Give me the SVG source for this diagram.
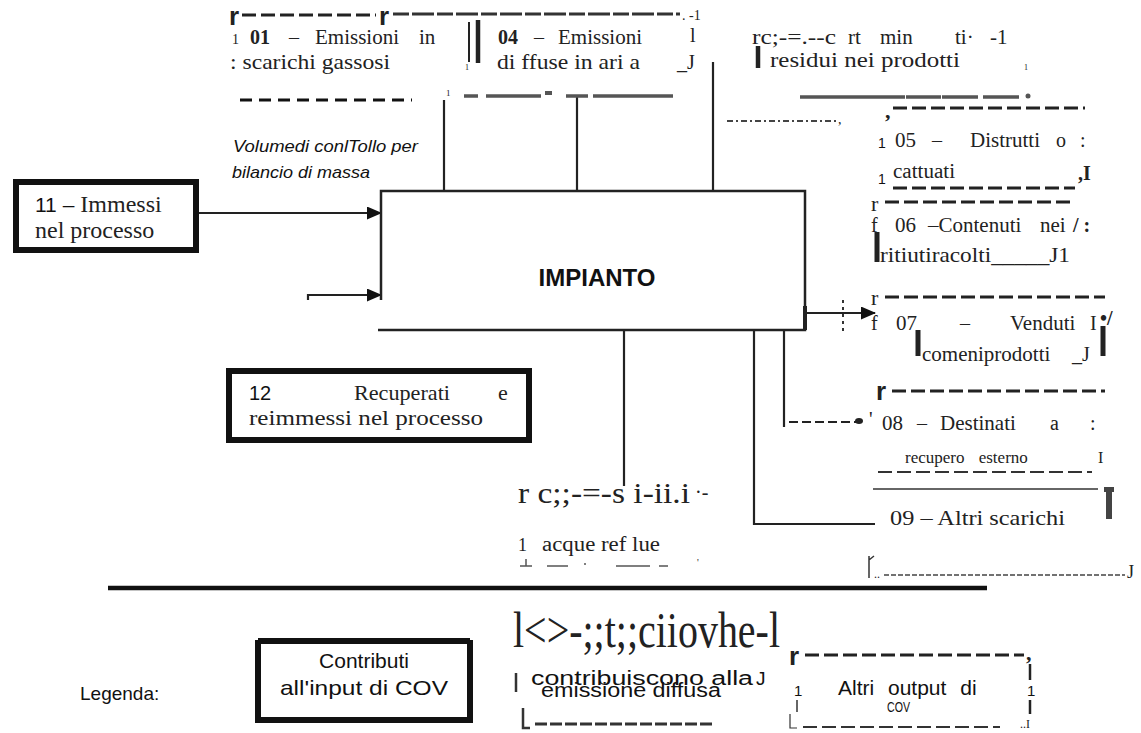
<svg xmlns="http://www.w3.org/2000/svg" width="1141" height="733" viewBox="0 0 1141 733">
<defs>
<style>
.sf{font-family:"Liberation Serif","DejaVu Serif",serif;fill:#222}
.ss{font-family:"Liberation Sans","DejaVu Sans",sans-serif;fill:#111}
.f20{font-size:20px}
.f18{font-size:18px}
.dash{fill:none;stroke:#222;stroke-width:3;stroke-dasharray:14 5}
.ln{fill:none;stroke:#222;stroke-width:2.2}
.thick{fill:none;stroke:#111;stroke-width:6}
.rr{font-family:"Liberation Sans","DejaVu Sans",sans-serif;font-weight:bold;font-size:26px;fill:#222}
</style>
<marker id="ah" markerWidth="15" markerHeight="13" refX="14" refY="6.5" orient="auto" markerUnits="userSpaceOnUse">
<path d="M0,0 L15,6.5 L0,13 Z" fill="#111"/>
</marker>
</defs>
<rect width="1141" height="733" fill="#fff"/>

<g id="connectors">
<line class="ln" x1="199" y1="213" x2="381" y2="213" marker-end="url(#ah)"/>
<path class="ln" d="M308,300 V295 H381" marker-end="url(#ah)"/>
<line class="ln" x1="444" y1="100" x2="444" y2="191"/>
<line class="ln" x1="577" y1="97" x2="577" y2="191"/>
<line class="ln" x1="713" y1="62" x2="713" y2="191"/>
<line class="ln" x1="805" y1="313" x2="875" y2="313" marker-end="url(#ah)"/>
<line x1="843" y1="300" x2="843" y2="332" stroke="#333" stroke-width="2" stroke-dasharray="3 4"/>
<line class="ln" x1="624" y1="330" x2="624" y2="486"/>
<path class="ln" d="M754,330 V524 H875"/>
<line class="ln" x1="784" y1="330" x2="784" y2="427"/>
<line x1="789" y1="422" x2="856" y2="422" stroke="#222" stroke-width="2.2" stroke-dasharray="9 4"/>
<ellipse cx="859" cy="421" rx="4" ry="3" fill="#222"/>
</g>

<g id="impianto">
<path d="M381,300 V191 H805 V330 H378" fill="none" stroke="#222" stroke-width="2.5"/>
<line x1="805" y1="306" x2="805" y2="330" stroke="#222" stroke-width="4"/>
<text class="ss" x="597" y="286" font-size="24" font-weight="bold" text-anchor="middle">IMPIANTO</text>
</g>

<g id="n11">
<rect x="16" y="182" width="180" height="68" class="thick"/>
<text class="sf" x="35" y="212" font-size="24"><tspan class="ss" font-size="21">11 –</tspan> Immessi</text>
<text class="sf" x="35" y="238" font-size="24">nel processo</text>
</g>

<g id="annotation">
<text class="ss" x="233" y="152" font-size="17" font-style="italic" textLength="185" lengthAdjust="spacingAndGlyphs">Volumedi conlTollo per</text>
<text class="ss" x="232" y="178" font-size="17" font-style="italic" textLength="138" lengthAdjust="spacingAndGlyphs">bilancio di massa</text>
</g>

<g id="n12">
<rect x="229" y="371" width="300" height="69" class="thick"/>
<text class="ss" x="249" y="400" font-size="20">12</text>
<text class="sf" x="354" y="400" font-size="22" textLength="96" lengthAdjust="spacingAndGlyphs">Recuperati</text>
<text class="sf" x="498" y="400" font-size="22">e</text>
<text class="sf" x="249" y="425" font-size="22" textLength="234" lengthAdjust="spacingAndGlyphs">reimmessi nel processo</text>
</g>

<g id="n01">
<text class="rr" x="229" y="25">r</text>
<line class="dash" x1="242" y1="15" x2="376" y2="15"/>
<text class="sf" x="232" y="44" font-size="14">1</text>
<text class="sf f20" x="250" y="44" font-weight="bold">01</text>
<text class="sf f20" x="289" y="44">–</text>
<text class="sf" x="315" y="44" font-size="21">Emissioni</text>
<text class="sf" x="419" y="44" font-size="21">in</text>
<text class="sf" x="230" y="69" font-size="21" textLength="160" lengthAdjust="spacingAndGlyphs">: scarichi gassosi</text>
<line x1="240" y1="100" x2="412" y2="100" stroke="#111" stroke-width="3" stroke-dasharray="12 7"/>
<text class="sf" x="446" y="96" font-size="9">1</text>
</g>

<g id="n04">
<text class="rr" x="379" y="25">r</text>
<path d="M393,14 H680" fill="none" stroke="#333" stroke-width="3" stroke-dasharray="16 3 22 3"/>
<text class="sf" x="682" y="20" font-size="14">. -1</text>
<line x1="469" y1="22" x2="469" y2="62" stroke="#222" stroke-width="2"/>
<line x1="478" y1="20" x2="478" y2="63" stroke="#222" stroke-width="4.5"/>
<text class="sf" x="465" y="70" font-size="8">1</text>
<text class="sf f20" x="498" y="44" font-weight="bold">04</text>
<text class="sf f20" x="534" y="44">–</text>
<text class="sf" x="558" y="44" font-size="21">Emissioni</text>
<text class="sf f20" x="690" y="42">l</text>
<text class="sf" x="497" y="69" font-size="21" textLength="143" lengthAdjust="spacingAndGlyphs">di ffuse in ari a</text>
<text class="sf f20" x="677" y="69">_J</text>
<path d="M464,96 H478 M486,96 H541 M566,96 H588 M593,96 H673" stroke="#555" stroke-width="3.5" fill="none"/>
<rect x="545" y="91" width="7" height="4" fill="#555"/>
</g>

<g id="n03">
<text class="sf" x="752" y="44" font-size="22" textLength="84" lengthAdjust="spacingAndGlyphs">rc;-=.--c</text>
<text class="sf" x="848" y="44" font-size="21">rt</text>
<text class="sf" x="880" y="44" font-size="21">min</text>
<text class="sf" x="955" y="44" font-size="21">ti·</text>
<text class="sf" x="990" y="44" font-size="21">-1</text>
<line x1="758" y1="46" x2="758" y2="68" stroke="#222" stroke-width="4.5"/>
<text class="sf" x="770" y="67" font-size="22" textLength="190" lengthAdjust="spacingAndGlyphs">residui nei prodotti</text>
<text class="sf" x="1024" y="70" font-size="8">1</text>
<path d="M800,97 H817 M817,97 H835 M835,97 H905 M906,97 H941 M942,97 H978 M983,97 H1019" stroke="#555" stroke-width="3.5" fill="none"/>
<circle cx="1028" cy="96" r="2.5" fill="#555"/>
<line x1="727" y1="121" x2="838" y2="121" stroke="#444" stroke-width="2" stroke-dasharray="6 3 2 3"/>
<text class="sf" x="838" y="124" font-size="14">,</text>
</g>

<g id="n05">
<text class="sf" x="885" y="118" font-size="22" font-weight="bold">,</text>
<line class="dash" x1="893" y1="108" x2="1085" y2="108"/>
<text class="ss" x="878" y="148" font-size="14">1</text>
<text class="sf" x="895" y="147" font-size="21">05</text>
<text class="sf f20" x="932" y="147">–</text>
<text class="sf" x="970" y="147" font-size="21">Distrutti</text>
<text class="sf f20" x="1056" y="147">o</text>
<text class="sf f20" x="1080" y="147">:</text>
<text class="ss" x="878" y="184" font-size="14">1</text>
<text class="sf f20" x="893" y="178" textLength="62" lengthAdjust="spacingAndGlyphs">cattuati</text>
<text class="sf f20" x="1078" y="180" font-weight="bold">,I</text>
<line class="dash" x1="893" y1="188" x2="1075" y2="188"/>
</g>

<g id="n06">
<text class="sf" x="871" y="211" font-size="22">r</text>
<line class="dash" x1="885" y1="202" x2="1075" y2="202"/>
<text class="sf f20" x="871" y="232">f</text>
<text class="sf" x="895" y="232" font-size="21">06</text>
<text class="sf" x="928" y="232" font-size="21">–Contenuti</text>
<text class="sf" x="1040" y="232" font-size="21">nei</text>
<text class="sf f20" x="1073" y="232" font-weight="bold">/ :</text>
<line x1="877" y1="232" x2="877" y2="262" stroke="#222" stroke-width="5"/>
<text class="sf" x="880" y="262" font-size="21" textLength="190" lengthAdjust="spacingAndGlyphs">ritiutiracolti_____J1</text>
</g>

<g id="n07">
<text class="sf" x="871" y="305" font-size="22">r</text>
<line class="dash" x1="885" y1="297" x2="1105" y2="297"/>
<text class="sf f20" x="871" y="330">f</text>
<text class="sf" x="896" y="330" font-size="21">07</text>
<text class="sf f20" x="960" y="330">–</text>
<text class="sf" x="1010" y="330" font-size="21">Venduti</text>
<text class="sf f20" x="1090" y="330">I</text>
<text class="sf f20" x="1100" y="325" font-weight="bold">•/</text>
<line x1="918" y1="330" x2="918" y2="356" stroke="#222" stroke-width="5"/>
<line x1="1103" y1="326" x2="1103" y2="356" stroke="#222" stroke-width="5"/>
<text class="sf" x="922" y="361" font-size="21">comeniprodotti</text>
<text class="sf f20" x="1072" y="361">_J</text>
</g>

<g id="n08">
<text class="rr" x="876" y="400">r</text>
<line class="dash" x1="892" y1="391" x2="1105" y2="391" stroke-width="3.5"/>
<text class="sf f20" x="869" y="426">'</text>
<text class="sf" x="882" y="430" font-size="21">08</text>
<text class="sf f20" x="917" y="430">–</text>
<text class="sf" x="940" y="430" font-size="21">Destinati</text>
<text class="sf f20" x="1050" y="430">a</text>
<text class="sf f20" x="1090" y="430">:</text>
<text class="sf" x="905" y="463" font-size="17" word-spacing="10">recupero esterno</text>
<text class="sf" x="1098" y="463" font-size="16">I</text>
<line x1="878" y1="472" x2="1092" y2="472" stroke="#333" stroke-width="2" stroke-dasharray="14 5"/>
</g>

<g id="n09">
<line x1="873" y1="489" x2="1098" y2="489" stroke="#666" stroke-width="2"/>
<rect x="1106" y="491" width="6" height="28" fill="#444"/>
<rect x="1104" y="487" width="10" height="5" fill="#444"/>
<text class="sf" x="890" y="525" font-size="22" textLength="175" lengthAdjust="spacingAndGlyphs">09 – Altri scarichi</text>
<path d="M869,556 V578 M869,560 L874,556" stroke="#333" stroke-width="1.5" fill="none"/>
<text class="sf" x="874" y="578" font-size="12">..</text>
<line x1="884" y1="575" x2="1125" y2="575" stroke="#444" stroke-width="1.5" stroke-dasharray="5 2"/>
<text class="sf f18" x="1127" y="578">J</text>
</g>

<g id="n10">
<text class="sf" x="518" y="503" font-size="30" textLength="172" lengthAdjust="spacingAndGlyphs">r c;;-=-s i-ii.i</text>
<text class="sf" x="695" y="499" font-size="20">·-</text>
<text class="sf f18" x="518" y="551">1</text>
<text class="sf" x="542" y="551" font-size="20" textLength="118" lengthAdjust="spacingAndGlyphs">acque ref lue</text>
<path d="M520,566 H532 M526,559 V566 M547,566 H568 M585,563 V565 M616,566 H650 M659,566 H668" stroke="#555" stroke-width="1.5" fill="none"/>
<text class="sf" x="697" y="566" font-size="10">'</text>
</g>

<line id="separator" x1="108" y1="588" x2="987" y2="588" stroke="#111" stroke-width="4.5"/>

<g id="legend">
<text class="ss" x="80" y="700" font-size="19">Legenda:</text>
<g id="leg-input">
<path d="M258,640 V722 M470,640 V722 M255,720 H473 M258,641 H470" class="thick"/>
<text class="ss" x="364" y="668" font-size="21" text-anchor="middle">Contributi</text>
<text class="ss" x="364" y="695" font-size="21" text-anchor="middle" textLength="168" lengthAdjust="spacingAndGlyphs">all'input di COV</text>
</g>
<g id="leg-diffuse">
<text class="sf" x="513" y="647" font-size="50" textLength="267" lengthAdjust="spacingAndGlyphs">l&lt;&gt;-;;t;;ciiovhe-l</text>
<line x1="516" y1="673" x2="516" y2="692" stroke="#333" stroke-width="2.5"/>
<text class="ss" x="531" y="685" font-size="20" textLength="222" lengthAdjust="spacingAndGlyphs">contribuiscono alla</text>
<text class="ss" x="756" y="685" font-size="19">J</text>
<text class="ss" x="541" y="697" font-size="20" textLength="180" lengthAdjust="spacingAndGlyphs">emissione diffusa</text>
<path d="M523,708 V728 H530" stroke="#333" stroke-width="2.5" fill="none"/>
<line x1="535" y1="724" x2="712" y2="724" stroke="#333" stroke-width="3" stroke-dasharray="12 3"/>
</g>
<g id="leg-output">
<text class="rr" x="789" y="665">r</text>
<line x1="805" y1="655" x2="1024" y2="655" stroke="#222" stroke-width="3" stroke-dasharray="14 5"/>
<text class="sf" x="1026" y="660" font-size="22" font-weight="bold">,</text>
<text class="ss" x="794" y="696" font-size="15">1</text>
<text class="ss" x="838" y="695" font-size="21" word-spacing="8">Altri output di</text>
<text class="ss" x="1027" y="696" font-size="15">1</text>
<line x1="1030" y1="664" x2="1030" y2="680" stroke="#222" stroke-width="2.5"/>
<line x1="797" y1="700" x2="797" y2="712" stroke="#333" stroke-width="1.5"/>
<line x1="1030" y1="700" x2="1030" y2="714" stroke="#222" stroke-width="2.5"/>
<text class="ss" x="887" y="712" font-size="14" textLength="23" lengthAdjust="spacingAndGlyphs">COV</text>
<path d="M790,714 V728 H797" stroke="#333" stroke-width="1.2" fill="none"/>
<line x1="803" y1="727" x2="1000" y2="727" stroke="#333" stroke-width="2" stroke-dasharray="14 5"/>
<text class="sf" x="1020" y="728" font-size="12">..I</text>
</g>
</g>
</svg>
